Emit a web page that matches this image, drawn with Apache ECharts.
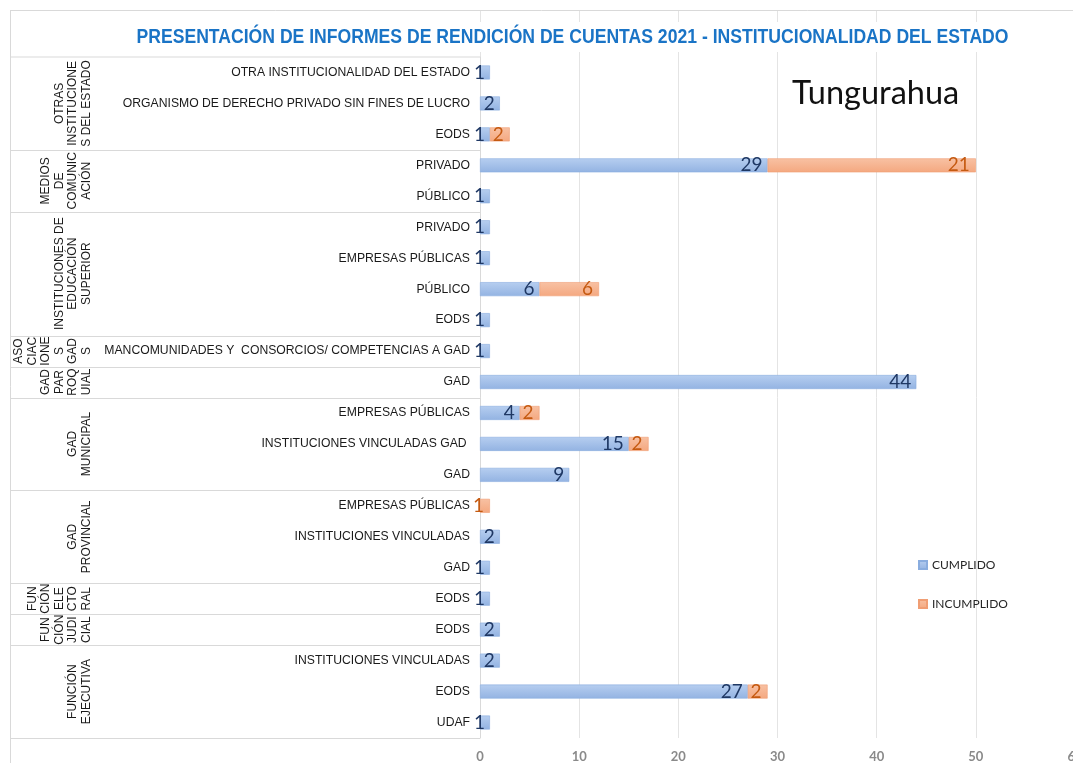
<!DOCTYPE html>
<html>
<head>
<meta charset="utf-8">
<script src="https://cdn.jsdelivr.net/npm/echarts@6/dist/echarts.min.js"></script>
<style>
html, body { margin: 0; padding: 0; background: #fff; }
#chart { width: 1073px; height: 763px; }
</style>
</head>
<body>
<div id="chart"></div>
<script>
// filas de la tabla, de arriba hacia abajo
const categories = [
  'OTRA INSTITUCIONALIDAD DEL ESTADO',
  'ORGANISMO DE DERECHO PRIVADO SIN FINES DE LUCRO',
  'EODS',
  'PRIVADO',
  'PÚBLICO',
  'PRIVADO',
  'EMPRESAS PÚBLICAS',
  'PÚBLICO',
  'EODS',
  'MANCOMUNIDADES Y  CONSORCIOS/ COMPETENCIAS A GAD',
  'GAD',
  'EMPRESAS PÚBLICAS',
  'INSTITUCIONES VINCULADAS GAD ',
  'GAD',
  'EMPRESAS PÚBLICAS',
  'INSTITUCIONES VINCULADAS',
  'GAD',
  'EODS',
  'EODS',
  'INSTITUCIONES VINCULADAS',
  'EODS',
  'UDAF'
];
const cumplido   = [1, 2, 1, 29, 1, 1, 1, 6, 1, 1, 44, 4, 15, 9, 0, 2, 1, 1, 2, 2, 27, 1];
const incumplido = [0, 0, 2, 21, 0, 0, 0, 6, 0, 0, 0, 2, 2, 0, 1, 0, 0, 0, 0, 0, 2, 0];

// grupos (columna izquierda) y cuántas filas abarca cada uno
const groupLabels = [
  'OTRAS\nINSTITUCIONE\nS DEL ESTADO',
  'MEDIOS\nDE\nCOMUNIC\nACIÓN',
  'INSTITUCIONES DE\nEDUCACIÓN\nSUPERIOR',
  'ASO\nCIAC\nIONE\nS\nGAD\nS',
  'GAD\nPAR\nROQ\nUIAL',
  'GAD\nMUNICIPAL',
  'GAD\nPROVINCIAL',
  'FUN\nCIÓN\nELE\nCTO\nRAL',
  'FUN\nCIÓN\nJUDI\nCIAL',
  'FUNCIÓN\nEJECUTIVA'
];
const groupSizes = [3, 2, 4, 1, 1, 3, 3, 1, 1, 3];

const xTicks = [0, 10, 20, 30, 40, 50, 60];

const titleText = 'PRESENTACIÓN DE INFORMES DE RENDICIÓN DE CUENTAS 2021 - INSTITUCIONALIDAD DEL ESTADO';

const chart = echarts.init(document.getElementById('chart'));

const blueFill = new echarts.graphic.LinearGradient(0, 0, 0, 1, [
  { offset: 0, color: '#b6cef0' },
  { offset: 1, color: '#93b3e2' }
]);
const orangeFill = new echarts.graphic.LinearGradient(0, 0, 0, 1, [
  { offset: 0, color: '#f8c1a3' },
  { offset: 1, color: '#f4a880' }
]);

const option = {
  backgroundColor: '#fff',
  animation: false,
  title: {
    text: 'Tungurahua',
    left: 792,
    top: 77,
    padding: 0,
    textStyle: {
      fontFamily: 'Lato',
      fontSize: 32.5,
      fontWeight: 'normal',
      color: '#111'
    }
  },
  legend: {
    data: ['CUMPLIDO', 'INCUMPLIDO'],
    orient: 'vertical',
    left: 913,
    top: 554,
    icon: 'rect',
    itemWidth: 8,
    itemHeight: 8,
    itemGap: 27,
    textStyle: { fontFamily: 'Lato', fontSize: 12, color: '#262626' }
  },
  grid: [
    { left: 480, right: -2, top: 57, bottom: 25, outerBoundsMode: 'none' },
    { left: 480, right: -2, top: 10, height: 47, outerBoundsMode: 'none' }
  ],
  xAxis: [
    {
      type: 'value',
      gridIndex: 0,
      min: xTicks[0],
      max: xTicks[xTicks.length - 1],
      interval: 10,
      axisLine: { show: false },
      axisTick: { show: false },
      splitLine: { lineStyle: { color: '#e4e4e4' } },
      axisLabel: {
        margin: 12,
        color: '#8a8a8a',
        fontFamily: 'Lato',
        fontWeight: 'bold',
        fontSize: 13
      }
    },
    {
      type: 'value',
      gridIndex: 1,
      min: xTicks[0],
      max: xTicks[xTicks.length - 1],
      interval: 10,
      axisLine: { show: false },
      axisTick: { show: false },
      axisLabel: { show: false },
      splitLine: { lineStyle: { color: '#e4e4e4' } }
    }
  ],
  yAxis: [
    {
      type: 'category',
      gridIndex: 0,
      inverse: true,
      data: categories,
      axisLine: { lineStyle: { color: '#d9d9d9' } },
      axisTick: { show: false },
      axisLabel: {
        interval: 0,
        margin: 10,
        color: '#1a1a1a',
        fontFamily: '"Liberation Sans"',
        fontSize: 12.2
      }
    },
    {
      type: 'category',
      gridIndex: 1,
      data: [''],
      show: false
    }
  ],
  series: [
    {
      name: 'CUMPLIDO',
      type: 'bar',
      stack: 'total',
      barWidth: 14,
      data: cumplido.map(v => (v === 0 ? '-' : v)),
      itemStyle: { color: blueFill, borderColor: '#8aaddf', borderWidth: 0.6 },
      label: {
        show: true,
        position: 'insideRight',
        distance: 5,
        color: '#1f3864',
        fontFamily: 'Lato',
        fontSize: 19
      }
    },
    {
      name: 'INCUMPLIDO',
      type: 'bar',
      stack: 'total',
      barWidth: 14,
      data: incumplido.map(v => (v === 0 ? '-' : v)),
      itemStyle: { color: orangeFill, borderColor: '#f09e74', borderWidth: 0.6 },
      label: {
        show: true,
        position: 'insideRight',
        distance: 6,
        color: '#c55a11',
        fontFamily: 'Lato',
        fontSize: 19
      }
    }
  ]
};

chart.setOption(option);

// tabla de grupos a la izquierda: líneas separadoras y etiquetas verticales
const y0 = chart.convertToPixel({ yAxisIndex: 0 }, 0);
const y1 = chart.convertToPixel({ yAxisIndex: 0 }, 1);
const band = y1 - y0;
const axisX = chart.convertToPixel({ xAxisIndex: 0 }, 0);
const graphics = [];
const lineStyle = { stroke: '#d9d9d9', lineWidth: 1 };

// título condensado: se mide y se estrecha para que ocupe lo mismo que en Excel
const titleFont = 'bold 21px "Liberation Sans"';
const ctx = document.createElement('canvas').getContext('2d');
ctx.font = titleFont;
const titleW = ctx.measureText(titleText).width;
const titleScale = 872 / titleW;
graphics.push({ type: 'rect', shape: { x: 128, y: 22, width: 890, height: 30 }, style: { fill: '#fff' }, silent: true, z: 10 });
graphics.push({
  type: 'text',
  x: 572.5,
  y: 37.5,
  scaleX: titleScale,
  silent: true,
  z: 11,
  style: { text: titleText, font: titleFont, fill: '#1a74c6', align: 'center', verticalAlign: 'middle' }
});

// marco exterior
graphics.push({ type: 'line', shape: { x1: 10, y1: 10.5, x2: 1073, y2: 10.5 }, style: lineStyle, silent: true });
graphics.push({ type: 'line', shape: { x1: 10.5, y1: 10, x2: 10.5, y2: 763 }, style: lineStyle, silent: true });

let start = 0;
const topEdge = y0 - band / 2;
graphics.push({ type: 'line', shape: { x1: 10, y1: topEdge, x2: axisX, y2: topEdge }, style: lineStyle, silent: true });
groupLabels.forEach((label, i) => {
  const end = start + groupSizes[i];
  const yTop = topEdge + start * band;
  const yBottom = topEdge + end * band;
  graphics.push({
    type: 'line',
    shape: { x1: 10, y1: Math.round(yBottom) + 0.5, x2: axisX, y2: Math.round(yBottom) + 0.5 },
    style: lineStyle,
    silent: true
  });
  graphics.push({
    type: 'text',
    x: 93,
    y: (yTop + yBottom) / 2,
    rotation: Math.PI / 2,
    silent: true,
    style: {
      text: label,
      fill: '#1a1a1a',
      font: '12px "Liberation Sans"',
      align: 'center',
      verticalAlign: 'bottom',
      lineHeight: 13.5
    }
  });
  start = end;
});

chart.setOption({ graphic: graphics });
</script>
</body>
</html>
